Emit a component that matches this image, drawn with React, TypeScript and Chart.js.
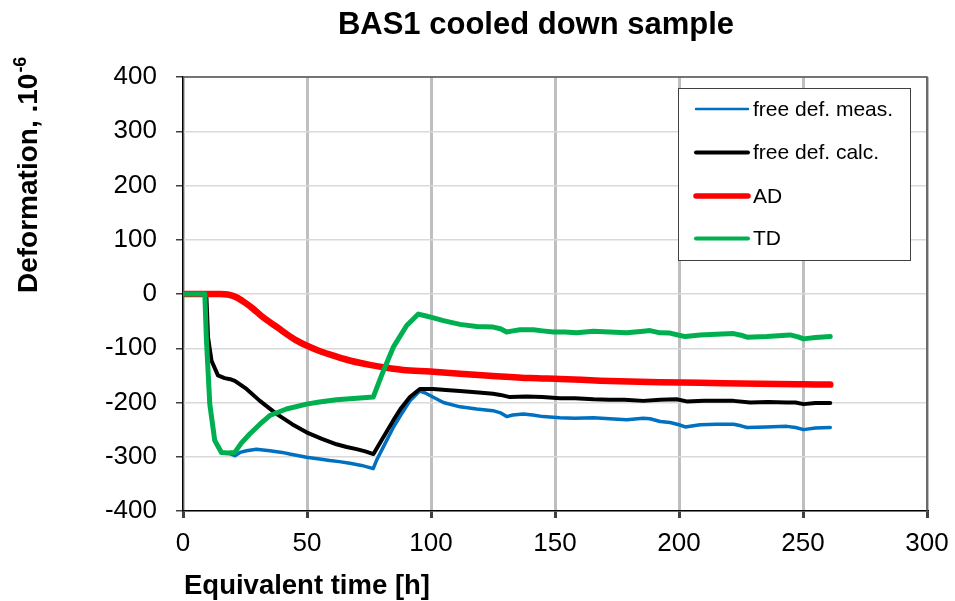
import React, { useEffect, useRef } from "react";
import { Chart, registerables } from "chart.js";

Chart.register(...registerables);

const FONT = "'Liberation Sans', Arial, Helvetica, sans-serif";

const chartTitle = "BAS1 cooled down sample";
const xAxisTitle = "Equivalent time [h]";
const yAxisTitleMain = "Deformation, .10";
const yAxisTitleSup = "-6";

const xMin = 0;
const xMax = 300;
const xStep = 50;
const yMin = -400;
const yMax = 400;
const yStep = 100;

// free def. meas.
const measTime = [
  0, 9, 9.4, 10.8, 12.8, 15.5, 18, 20.9, 23, 25.6,
  29.6, 35, 40, 43, 49.8, 55, 59.2, 63, 67.3, 72,
  75.3, 76.7, 78, 81, 84.8, 88, 91.5, 95.5, 97.5, 99.6,
  105, 111.7, 118.4, 125, 128, 130.5, 133, 137.2, 141, 145.2,
  152, 158, 165.5, 172, 178.9, 185.6, 188.3, 192.4, 196.4, 200,
  202.5, 208.5, 215, 222, 225, 227.4, 235, 243.5, 247, 250.2,
  255, 261,
];
const measValues = [
  0, 0, -80, -203, -270, -292, -293, -298, -292, -289,
  -286, -289, -292, -295, -301, -304, -307, -309, -312, -316,
  -320, -322, -307, -280, -246, -222, -197, -179, -182, -187,
  -200, -208, -212, -215, -219, -226, -223, -221, -223, -226,
  -228, -229, -228, -230, -232, -229, -230, -235, -237, -241,
  -245, -241, -240, -240, -243, -246, -245, -244, -246, -250,
  -247, -246,
];

// free def. calc.
const calcTime = [
  0, 9.4, 10.1, 11.5, 14.1, 16.8, 19, 20.9, 25.6, 31,
  37.7, 44, 49.8, 56, 61.9, 66, 70, 73.5, 76.8, 80,
  84.8, 88, 91.5, 95.5, 100.9, 106, 111.7, 118, 125, 128,
  131.8, 138.5, 145, 152, 158, 165.5, 172, 178, 185.6, 192.4,
  199, 203.1, 210, 216, 222, 228.7, 236, 243.5, 247, 250.2,
  255, 261,
];
const calcValues = [
  0, 0, -80, -123, -150, -155, -157, -160, -175, -197,
  -221, -240, -255, -267, -277, -282, -286, -290, -295, -270,
  -233, -210, -190, -175, -175, -177, -179, -181, -184, -186,
  -190, -189, -190, -192, -192, -194, -195, -195, -197, -195,
  -194, -198, -197, -197, -197, -200, -199, -200, -200, -203,
  -201, -201,
];

// AD
const adTime = [
  0, 15, 18, 21.5, 25, 28.2, 31.5, 35, 38.5, 41.7, 45.5,
  49.8, 55, 61.9, 68, 75.3, 82, 88.8, 99.6, 111.7, 125,
  140, 152, 168.2, 180, 192.4, 208.5, 225, 240, 250, 261,
];
const adValues = [
  0, 0, -1, -6, -16, -27, -40, -52, -63, -73.5, -85,
  -95, -105, -115.4, -123.5, -130.7, -136, -140, -143, -147, -151,
  -155, -156.6, -159.7, -161.5, -162.8, -163.5, -165, -166, -166.5, -167,
];

// TD
const tdTime = [
  0, 8.8, 9.4, 10.8, 12.8, 15.5, 18, 20.9, 23.5, 26.9,
  31, 35, 41.7, 49.8, 55, 61.9, 70, 76.7, 80.5, 84.8,
  90.2, 94.9, 97.6, 101, 105, 111.7, 118.4, 125.1, 128, 130.5,
  133, 135.9, 141.3, 145, 149.3, 154, 158.7, 165.5, 172, 178.9,
  185.6, 188.3, 192.4, 196.4, 200, 202.5, 208.5, 215, 222, 225,
  227.4, 235.4, 240, 244.8, 248, 250.2, 255, 261,
];
const tdValues = [
  0, 0, -80, -203, -270, -292, -293, -292, -275, -258,
  -240, -224, -212, -203, -199, -195, -192, -190, -145, -98,
  -58, -37, -40, -44, -49, -56, -60, -61, -64, -70,
  -68, -66, -66, -68, -70, -70, -71.6, -68.6, -70, -71.6,
  -68.6, -67.4, -71.6, -72, -76, -78.5, -75.4, -74, -73, -76,
  -79.7, -78.5, -77, -75.4, -79, -82.7, -80, -78.5,
];

const seriesLabels = ["free def. meas.", "free def. calc.", "AD", "TD"];
const seriesColors = ["#0070C0", "#000000", "#FF0000", "#00B050"];
const seriesWidths = [3.5, 4, 6.5, 5];
const legendWidths = [2.5, 4, 5.5, 4];

const toPoints = (t: number[], v: number[]) => t.map((x, i) => ({ x, y: v[i] }));

const overlayPlugin = {
  id: "overlay",
  beforeDatasetsDraw(chart: any) {
    const { ctx, chartArea: a } = chart;
    ctx.save();
    ctx.strokeStyle = "#505050";
    ctx.lineWidth = 1.5;
    ctx.beginPath();
    ctx.moveTo(a.left, a.top);
    ctx.lineTo(a.right, a.top);
    ctx.lineTo(a.right, a.bottom);
    ctx.stroke();
    ctx.restore();
  },
  afterDraw(chart: any) {
    const { ctx } = chart;
    ctx.save();
    ctx.fillStyle = "#000";
    // Title
    ctx.font = `bold 31px ${FONT}`;
    ctx.textAlign = "center";
    ctx.textBaseline = "alphabetic";
    ctx.fillText(chartTitle, 536, 34);
    // X title
    ctx.font = `bold 27.5px ${FONT}`;
    ctx.fillText(xAxisTitle, 307, 594);
    // Y title
    ctx.save();
    ctx.translate(37, 293);
    ctx.rotate(-Math.PI / 2);
    ctx.textAlign = "left";
    ctx.font = `bold 28px ${FONT}`;
    ctx.fillText(yAxisTitleMain, 0, 0);
    const w = ctx.measureText(yAxisTitleMain).width;
    ctx.font = `bold 18px ${FONT}`;
    ctx.fillText(yAxisTitleSup, w + 1, -11);
    ctx.restore();
    // Legend
    const bx = 678, by = 88, bw = 232, bh = 172;
    ctx.fillStyle = "#fff";
    ctx.fillRect(bx, by, bw, bh);
    ctx.strokeStyle = "#404040";
    ctx.lineWidth = 1;
    ctx.strokeRect(bx + 0.5, by + 0.5, bw, bh);
    const rowY = [109, 152.5, 196, 238.5];
    ctx.font = `21px ${FONT}`;
    ctx.textAlign = "left";
    ctx.textBaseline = "middle";
    seriesLabels.forEach((lab, i) => {
      ctx.strokeStyle = seriesColors[i];
      ctx.lineWidth = legendWidths[i];
      ctx.lineCap = "round";
      ctx.beginPath();
      ctx.moveTo(696, rowY[i]);
      ctx.lineTo(748, rowY[i]);
      ctx.stroke();
      ctx.fillStyle = "#000";
      ctx.fillText(lab, 753, rowY[i] + 1);
    });
    ctx.restore();
  },
};

export default function App() {
  const ref = useRef<HTMLCanvasElement>(null);
  useEffect(() => {
    if (!ref.current) return;
    const datasets = [
      { label: seriesLabels[3], data: toPoints(tdTime, tdValues), color: seriesColors[3], w: seriesWidths[3], smooth: false },
      { label: seriesLabels[2], data: toPoints(adTime, adValues), color: seriesColors[2], w: seriesWidths[2], smooth: true },
      { label: seriesLabels[1], data: toPoints(calcTime, calcValues), color: seriesColors[1], w: seriesWidths[1], smooth: false },
      { label: seriesLabels[0], data: toPoints(measTime, measValues), color: seriesColors[0], w: seriesWidths[0], smooth: false },
    ].map((d) => ({
      label: d.label,
      data: d.data,
      borderColor: d.color,
      backgroundColor: d.color,
      borderWidth: d.w,
      pointRadius: 0,
      tension: 0,
      cubicInterpolationMode: d.smooth ? ("monotone" as const) : ("default" as const),
      fill: false,
      borderJoinStyle: "round" as const,
      borderCapStyle: "round" as const,
    }));
    const chart = new Chart(ref.current, {
      type: "line",
      data: { datasets },
      options: {
        animation: false,
        responsive: false,
        maintainAspectRatio: false,
        layout: { padding: { top: 77, right: 28, bottom: 0, left: 0 } },
        plugins: {
          legend: { display: false },
          title: { display: false },
          tooltip: { enabled: false },
        },
        scales: {
          x: {
            type: "linear",
            min: xMin,
            max: xMax,
            ticks: {
              stepSize: xStep,
              autoSkip: false,
              maxRotation: 0,
              color: "#000",
              padding: 10,
              font: { family: FONT, size: 26 },
            },
            grid: {
              color: "#bfbfbf",
              lineWidth: 3,
              tickColor: "#404040",
              tickLength: 7,
              drawTicks: true,
            },
            border: { display: true, color: "#000", width: 1.5 },
            afterFit: (s: any) => {
              s.height = 90;
              s.paddingLeft = 0;
              s.paddingRight = 0;
            },
          },
          y: {
            type: "linear",
            min: yMin,
            max: yMax,
            ticks: {
              stepSize: yStep,
              color: "#000",
              padding: 19,
              font: { family: FONT, size: 26 },
            },
            grid: {
              color: "#d9d9d9",
              lineWidth: 1.5,
              tickColor: "#404040",
              tickLength: 7,
              drawTicks: true,
            },
            border: { display: true, color: "#000", width: 1.5 },
            afterFit: (s: any) => {
              s.width = 183;
              s.paddingTop = 0;
              s.paddingBottom = 0;
            },
          },
        },
      },
      plugins: [overlayPlugin],
    });
    return () => chart.destroy();
  }, []);
  return (
    <div style={{ position: "absolute", left: 0, top: 0, width: 955, height: 601, background: "#fff" }}>
      <canvas ref={ref} width={955} height={601} style={{ width: 955, height: 601, display: "block" }} />
    </div>
  );
}
